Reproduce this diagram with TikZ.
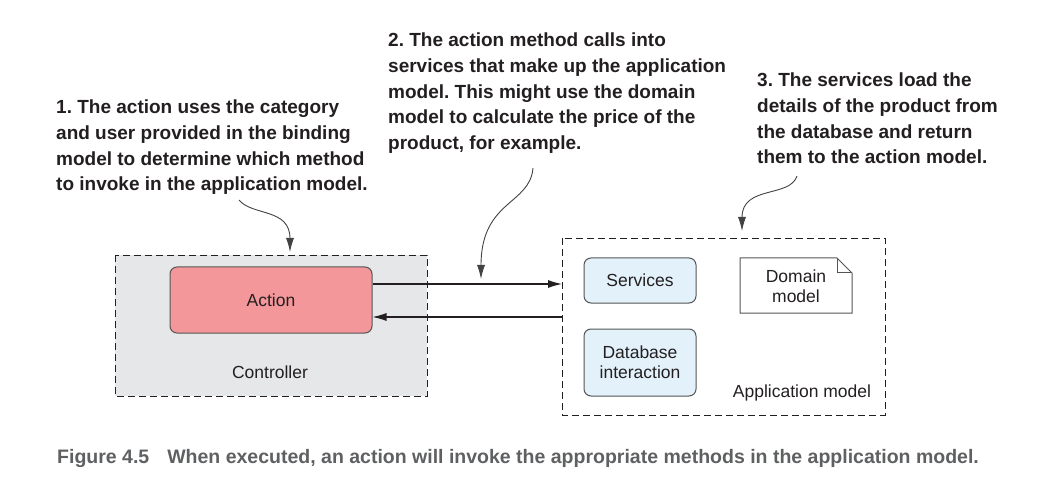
\documentclass[tikz,border=0pt]{standalone}
\usepackage{fontspec}
\setmainfont{Liberation Sans}
\usetikzlibrary{arrows.meta,shapes.misc}
\frenchspacing
\definecolor{ink}{HTML}{231F20}
\definecolor{ctrlfill}{HTML}{E6E7E8}
\definecolor{actfill}{HTML}{F4979B}
\definecolor{svcfill}{HTML}{E3F1FB}
\definecolor{capgray}{HTML}{5F6062}
\definecolor{edge}{HTML}{555555}
\tikzset{
  dashbox/.style={draw=ink, line width=0.9pt, dash pattern=on 7pt off 4pt},
  rbox/.style={draw=edge, line width=1pt, rounded corners=7pt, inner sep=0pt, font=\fontsize{17.5}{21}\selectfont, text=ink, align=center},
  lbl/.style={inner sep=0pt, font=\fontsize{17.5}{21}\selectfont, text=ink},
  note/.style={inner sep=0pt, anchor=north west, align=left, text=ink, font=\fontsize{19}{25.6}\selectfont\bfseries},
  flow/.style={draw=ink, line width=1.1pt, -{Latex[length=14pt,width=8pt]}},
  pointer/.style={draw=ink!85, line width=0.9pt, -{Latex[length=14pt,width=8pt]}},
}
\begin{document}
\begin{tikzpicture}[x=1pt,y=-1pt]
\useasboundingbox (0,0) rectangle (1056,502);
% containers
\draw[dashbox, fill=ctrlfill] (115,255) rectangle (427,396);
\draw[dashbox] (562,238) rectangle (885,415);
\node[lbl] (ctrl) at (270,372) {Controller};
\node[lbl] (appm) at (802,393) {Application model};
% boxes
\node[rbox, fill=actfill, minimum width=202pt, minimum height=66pt] (act) at (271,300) {Action};
\node[rbox, fill=svcfill, minimum width=112pt, minimum height=45pt] (svc) at (640,280.5) {Services};
\node[rbox, fill=svcfill, minimum width=112pt, minimum height=67pt] (db) at (640,362.5) {Database\\[-1pt]interaction};
% domain model note
\draw[draw=edge, line width=1pt, fill=white] (740,258) -- (837,258) -- (852,273) -- (852,313) -- (740,313) -- cycle;
\draw[draw=edge, line width=1pt] (837,258) -- (837,273) -- (852,273);
\node[lbl, align=center] (dm) at (796,286) {Domain\\[-1pt]model};
% flow arrows
\coordinate (appL1) at (562,284);
\coordinate (appL2) at (562,317);
\draw[flow] (act.east |- appL1) -- (appL1);
\draw[flow] (appL2) -- (act.east |- appL2);
% annotations
\node[note] (n1) at (56,100) {1. The action uses the category\\and user provided in the binding\\model to determine which method\\to invoke in the application model.};
\node[note] (n2) at (388,33) {2. The action method calls into\\services that make up the application\\model. This might use the domain\\model to calculate the price of the\\product, for example.};
\node[note] (n3) at (757,73) {3. The services load the\\details of the product from\\the database and return\\them to the action model.};
\coordinate (p1s) at (239,200);
\coordinate (p1e) at (290,252);
\coordinate (p2s) at (533,168);
\coordinate (p2e) at (481,279);
\coordinate (p3s) at (797,176);
\coordinate (p3e) at (742,231);
\draw[pointer] (p1s) .. controls (252,216) and (290,208) .. (p1e);
\draw[pointer] (p2s) .. controls (530,205) and (481,200) .. (p2e);
\draw[pointer] (p3s) .. controls (790,198) and (742,185) .. (p3e);
% caption
\node[inner sep=0pt, anchor=base west, text=capgray, font=\fontsize{19.5}{22}\selectfont\bfseries] (cap) at (57,463) {Figure 4.5\hspace{18pt}When executed, an action will invoke the appropriate methods in the application model.};
\end{tikzpicture}
\end{document}
